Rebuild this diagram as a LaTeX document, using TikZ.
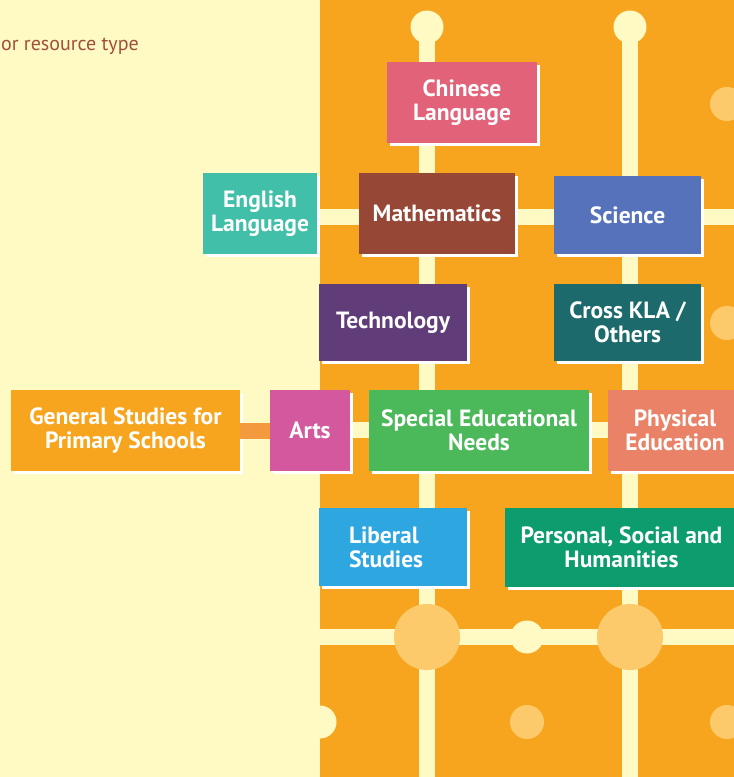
\documentclass[tikz,border=0pt]{standalone}
\usepackage{fontspec}
\setmainfont{PT Sans}
\usetikzlibrary{shadows}
\definecolor{paper}{HTML}{FFF9C4}
\definecolor{board}{HTML}{F7A51E}
\definecolor{dot}{HTML}{FCCA6A}
\definecolor{caption}{HTML}{A0503A}
\definecolor{artlink}{HTML}{F39A3F}
\definecolor{chinese}{HTML}{E2627A}
\definecolor{english}{HTML}{42BFA9}
\definecolor{maths}{HTML}{964735}
\definecolor{science}{HTML}{5672BA}
\definecolor{techno}{HTML}{603D78}
\definecolor{crossKLA}{HTML}{1C6A6B}
\definecolor{arts}{HTML}{D4589E}
\definecolor{sen}{HTML}{4BB85A}
\definecolor{physed}{HTML}{E98267}
\definecolor{liberal}{HTML}{2EA6E0}
\definecolor{psh}{HTML}{0C9C6E}
\tikzset{
	subject/.style={fill=#1, text=white, font=\bfseries\fontsize{23.5}{24}\selectfont, align=center, inner sep=0pt,
		copy shadow={shadow xshift=3pt, shadow yshift=-3pt, fill=white, draw=none}},
	track/.style={line width=16pt, color=paper},
}

\begin{document}
\begin{tikzpicture}[x=1pt, y=-1pt]
		%%%%% START %%%%%
		
		\useasboundingbox (0, 0) rectangle (734, 777);
		\clip (0, 0) rectangle (734, 777);
		
		\fill[paper] (0, 0) rectangle (734, 777);
		\fill[board] (320, 0) rectangle (734, 777);
		
		\node[anchor=base east, text=caption, font=\fontsize{20}{22}\selectfont, inner sep=0pt] (type) at (139, 50) {or resource type};
		
		% tracks
		\coordinate (v1top) at (427, 27);
		\coordinate (v1bot) at (427, 777);
		\coordinate (v2top) at (630, 27);
		\coordinate (v2bot) at (630, 777);
		\coordinate (h1l) at (320, 217);
		\coordinate (h1r) at (734, 217);
		\coordinate (h2l) at (320, 430);
		\coordinate (h2r) at (734, 430);
		\coordinate (h3l) at (320, 637);
		\coordinate (h3r) at (734, 637);
		
		\draw[track] (v1top) -- (v1bot);
		\draw[track] (v2top) -- (v2bot);
		\draw[track] (h1l) -- (h1r);
		\draw[track] (h2l) -- (h2r);
		\draw[track] (h3l) -- (h3r);
		
		\fill[paper] (v1top) circle (16.5);
		\fill[paper] (v2top) circle (16.5);
		\fill[paper] (527, 637) circle (16.5);
		\fill[paper] (320, 722) circle (16.5);
		
		\fill[dot] (427, 637) circle (33);
		\fill[dot] (630, 637) circle (33);
		\fill[dot] (727, 104) circle (17);
		\fill[dot] (727, 323) circle (17);
		\fill[dot] (527, 722) circle (17);
		\fill[dot] (727, 722) circle (17);
		
		% subjects
		\node[subject=chinese, minimum width=150pt, minimum height=81pt] (chin) at (462, 102.5) {Chinese\\Language};
		\node[subject=english, minimum width=114pt, minimum height=81pt] (eng) at (260, 213.5) {English\\Language};
		\node[subject=maths, minimum width=156pt, minimum height=81pt] (math) at (437, 213.5) {Mathematics};
		\node[subject=science, minimum width=147pt, minimum height=78pt] (sci) at (627.5, 215) {Science};
		\node[subject=techno, minimum width=148pt, minimum height=77pt] (tech) at (393, 322.5) {Technology};
		\node[subject=crossKLA, minimum width=147pt, minimum height=77pt] (cross) at (627.5, 322.5) {Cross KLA /\\Others};
		
		\node[subject=board, minimum width=229pt, minimum height=81pt] (gs) at (125.5, 430.5) {General Studies for\\Primary Schools};
		\node[subject=arts, minimum width=80pt, minimum height=81pt] (art) at (310, 430.5) {Arts};
		\draw[line width=16pt, color=artlink] (gs) -- (art);
		\node[subject=sen, minimum width=220pt, minimum height=81pt] (spec) at (479, 430.5) {Special Educational\\Needs};
		\node[subject=physed, minimum width=134pt, minimum height=81pt] (pe) at (675, 430.5) {Physical\\Education};
		
		\node[subject=liberal, minimum width=148pt, minimum height=78pt, align=left, text width=88pt] (lib) at (393, 547) {Liberal\\Studies};
		\node[subject=psh, minimum width=233pt, minimum height=79pt] (pers) at (621.5, 547.5) {Personal, Social and\\Humanities};
		
		%%%%% END %%%%%
	\end{tikzpicture}
\end{document}
